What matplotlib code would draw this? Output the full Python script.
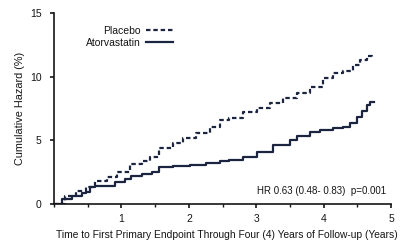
import matplotlib
matplotlib.use("Agg")
import matplotlib.pyplot as plt
from matplotlib.ticker import MultipleLocator

plt.rcParams['font.family'] = ['Liberation Sans', 'DejaVu Sans']

# Data (years, cumulative hazard %)
placebo_t = [0, 0.17, 0.32, 0.47, 0.61, 0.79, 0.94, 1.12, 1.31, 1.42, 1.56, 1.76,
             1.91, 2.11, 2.31, 2.46, 2.60, 2.80, 3.01, 3.20, 3.39, 3.60, 3.79,
             3.99, 4.13, 4.28, 4.43, 4.54, 4.64, 4.72]
placebo_h = [0, 0.63, 1.02, 1.34, 1.81, 2.12, 2.51, 3.14, 3.38, 3.69, 4.40, 4.79,
             5.18, 5.58, 6.05, 6.60, 6.76, 7.23, 7.54, 7.93, 8.33, 8.72, 9.19,
             9.90, 10.29, 10.45, 10.92, 11.31, 11.60, 11.55]

atorva_t = [0, 0.12, 0.27, 0.42, 0.47, 0.54, 0.61, 0.79, 0.90, 1.05, 1.14, 1.31,
            1.46, 1.56, 1.76, 2.01, 2.26, 2.46, 2.60, 2.80, 3.01, 3.24, 3.50,
            3.60, 3.79, 3.94, 4.13, 4.28, 4.39, 4.49, 4.57, 4.64, 4.69, 4.74]
atorva_h = [0, 0.39, 0.63, 0.86, 0.94, 1.34, 1.41, 1.41, 1.73, 1.96, 2.20, 2.36,
            2.51, 2.91, 2.98, 3.06, 3.22, 3.38, 3.46, 3.69, 4.08, 4.63, 5.03,
            5.34, 5.66, 5.81, 5.97, 6.05, 6.36, 6.83, 7.31, 7.78, 8.01, 8.01]

x_ticks = [1, 2, 3, 4, 5]
y_ticks = [0, 5, 10, 15]
x_label = "Time to First Primary Endpoint Through Four (4) Years of Follow-up (Years)"
y_label = "Cumulative Hazard (%)"
labels = ["Placebo", "Atorvastatin"]
annotation = "HR 0.63 (0.48- 0.83)  p=0.001"

color = '#1c2540'
tc = '#151515'

fig = plt.figure(figsize=(4.0, 2.47), dpi=100)
ax = fig.add_axes([0.135, 0.174, 0.843, 0.773])

ax.step(placebo_t, placebo_h, where='post', color=color, lw=1.6,
        linestyle=(0, (2.0, 1.3)), label=labels[0])
ax.step(atorva_t, atorva_h, where='post', color=color, lw=1.6,
        linestyle='-', label=labels[1])

ax.set_xlim(0, 5)
ax.set_ylim(0, 15)
ax.set_xticks(x_ticks)
ax.set_yticks(y_ticks)
ax.xaxis.set_minor_locator(MultipleLocator(0.5))
for s in ['top', 'right']:
    ax.spines[s].set_visible(False)
for s in ['left', 'bottom']:
    ax.spines[s].set_linewidth(1.2)
    ax.spines[s].set_color(tc)
ax.tick_params(axis='both', which='major', length=3, width=1.2, labelsize=7.5,
               colors=tc)
ax.tick_params(axis='x', which='major', pad=4)
ax.tick_params(axis='x', which='minor', length=2, width=1.0, colors=tc)
ax.tick_params(axis='y', pad=6)

ax.set_xlabel(x_label, fontsize=7.4, color=tc)
ax.xaxis.set_label_coords(0.512, -0.135)
ax.set_ylabel(y_label, fontsize=7.8, color=tc)
ax.yaxis.set_label_coords(-0.085, 0.5)

leg = ax.legend(loc='upper right', bbox_to_anchor=(0.368, 0.96), frameon=False,
                markerfirst=False, fontsize=7.5, handlelength=2.6,
                handletextpad=0.5, labelspacing=0.2, borderpad=0)
for t in leg.get_texts():
    t.set_color(tc)

ax.text(0.985, 0.07, annotation, transform=ax.transAxes, ha='right',
        va='center', fontsize=7, color=tc)

fig.savefig('out.png', dpi=100)
